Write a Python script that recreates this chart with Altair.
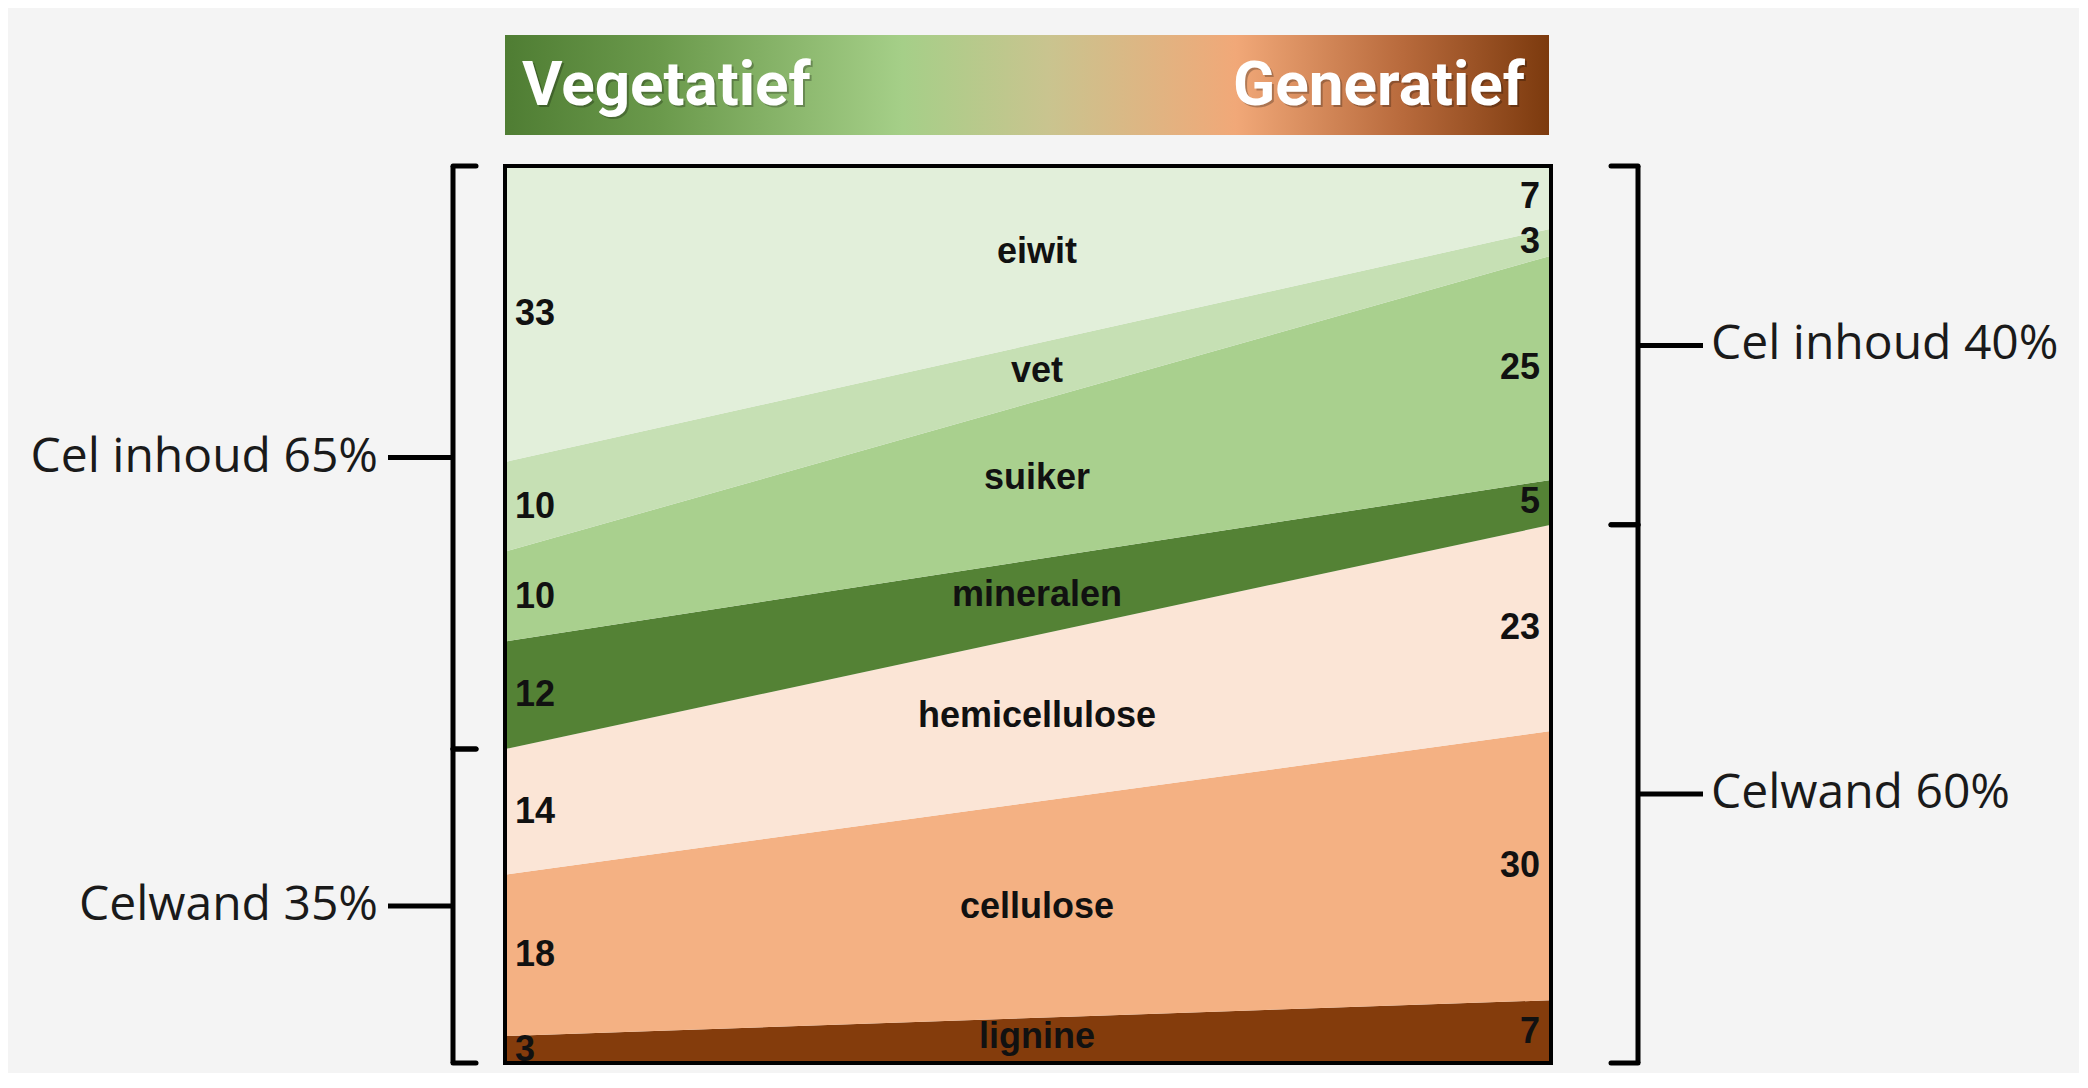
import altair as alt
import pandas as pd

# ---------------- data ----------------
stages = ["Vegetatief", "Generatief"]
components = ["eiwit", "vet", "suiker", "mineralen", "hemicellulose", "cellulose", "lignine"]
vegetatief = [33, 10, 10, 12, 14, 18, 3]
generatief = [7, 3, 25, 5, 23, 30, 7]
colors = ["#e2efda", "#c6e0b4", "#a9d08e", "#548235", "#fbe5d6", "#f4b183", "#843c0c"]
groups = ["Cel inhoud", "Cel inhoud", "Cel inhoud", "Cel inhoud", "Celwand", "Celwand", "Celwand"]
group_names = ["Cel inhoud", "Celwand"]

W, H = 1046, 897

# stacked bands (lignine at bottom, eiwit at top)
rows = []
for s, (stage, vals) in enumerate(zip(stages, [vegetatief, generatief])):
    base = 0
    for comp, v in reversed(list(zip(components, vals))):
        rows.append({"stage": stage, "pos": s, "comp": comp, "value": v,
                     "bottom": base, "top": base + v, "mid": base + v / 2})
        base += v
df = pd.DataFrame(rows)

# middle labels
mid_df = df.groupby("comp", as_index=False).agg(mid=("mid", "mean"), pos=("pos", "mean"))

# bracket groups
br_rows = []
for side, vals in zip(["left", "right"], [vegetatief, generatief]):
    base = 0
    for g in reversed(group_names):
        tot = sum(v for v, gg in zip(vals, groups) if gg == g)
        br_rows.append({"side": side, "group": g, "lo": base, "hi": base + tot,
                        "mid": base + tot / 2, "label": f"{g} {tot}%"})
        base += tot
br = pd.DataFrame(br_rows)
tips = pd.concat([br[["side", "lo"]].rename(columns={"lo": "yv"}),
                  br[["side", "hi"]].rename(columns={"hi": "yv"})])

xs = alt.Scale(domain=[0, 1], nice=False, zero=False)
ys = alt.Scale(domain=[0, 100], nice=False, zero=False)

base_chart = alt.Chart(df)

area = base_chart.mark_area(interpolate="linear", opacity=1).encode(
    x=alt.X("pos:Q", scale=xs, axis=None),
    y=alt.Y("top:Q", scale=ys, axis=None),
    y2="bottom:Q",
    color=alt.Color("comp:N", scale=alt.Scale(domain=components, range=colors), legend=None),
    detail="comp:N",
)

LBL_FONT = "Liberation Sans, Arial, sans-serif"

left_vals = alt.Chart(df[df.pos == 0]).mark_text(
    align="left", baseline="middle", font=LBL_FONT, fontSize=36, fontWeight="bold", color="#111111"
).encode(x=alt.value(10), y=alt.Y("mid:Q", scale=ys), text="value:Q")

right_vals = alt.Chart(df[df.pos == 1]).mark_text(
    align="right", baseline="middle", font=LBL_FONT, fontSize=36, fontWeight="bold", color="#111111"
).encode(x=alt.value(W - 11), y=alt.Y("mid:Q", scale=ys), text="value:Q")

mid_lbls = alt.Chart(mid_df).mark_text(
    align="center", baseline="middle", font=LBL_FONT, fontSize=36, fontWeight="bold", color="#111111",
    dx=9, dy=-4
).encode(x=alt.X("pos:Q", scale=xs), y=alt.Y("mid:Q", scale=ys), text="comp:N")

one = pd.DataFrame({"a": [0]})
border = alt.Chart(one).mark_rect(fillOpacity=0, stroke="#000000", strokeWidth=4).encode(
    x=alt.value(0), x2=alt.value(W), y=alt.value(0), y2=alt.value(H)
)

grad = alt.LinearGradient(
    gradient="linear",
    stops=[
        alt.GradientStop(offset=0.0, color="#4f7d33"),
        alt.GradientStop(offset=0.15, color="#6b9a4c"),
        alt.GradientStop(offset=0.38, color="#a5cf88"),
        alt.GradientStop(offset=0.52, color="#c9c48f"),
        alt.GradientStop(offset=0.70, color="#f1a878"),
        alt.GradientStop(offset=0.86, color="#b86a3c"),
        alt.GradientStop(offset=1.0, color="#7c3a0e"),
    ],
    x1=0, x2=1, y1=0, y2=0,
)
header = alt.Chart(one).mark_rect(color=grad).encode(
    x=alt.value(0), x2=alt.value(W - 2), y=alt.value(-131), y2=alt.value(-31)
)
HDR_FONT = "Roboto, Open Sans, sans-serif"
hdr_df = pd.DataFrame({"stage": stages})
hdr_left = alt.Chart(hdr_df[hdr_df.stage == stages[0]]).mark_text(
    align="left", baseline="middle", font=HDR_FONT, fontSize=62, fontWeight="bold", color="white"
).encode(x=alt.value(17), y=alt.value(-80), text="stage:N")
hdr_right = alt.Chart(hdr_df[hdr_df.stage == stages[1]]).mark_text(
    align="right", baseline="middle", font=HDR_FONT, fontSize=62, fontWeight="bold", color="white"
).encode(x=alt.value(W - 26), y=alt.value(-80), text="stage:N")
hdr_left_sh = alt.Chart(hdr_df[hdr_df.stage == stages[0]]).mark_text(
    align="left", baseline="middle", font=HDR_FONT, fontSize=62, fontWeight="bold", color="#000000",
    opacity=0.25, dx=2, dy=2
).encode(x=alt.value(17), y=alt.value(-80), text="stage:N")
hdr_right_sh = alt.Chart(hdr_df[hdr_df.stage == stages[1]]).mark_text(
    align="right", baseline="middle", font=HDR_FONT, fontSize=62, fontWeight="bold", color="#000000",
    opacity=0.25, dx=2, dy=2
).encode(x=alt.value(W - 26), y=alt.value(-80), text="stage:N")

# ---------------- brackets ----------------
BR_W = 5
BR_FONT = "Open Sans, Noto Sans, sans-serif"
layers_br = []
for side, xv, xtip, xtick, xtext, al in [
    ("left", -52, -29, -117, -127, "right"),
    ("right", W + 87, W + 60, W + 152, W + 160, "left"),
]:
    bsub = br[br.side == side]
    tsub = tips[tips.side == side]
    layers_br.append(alt.Chart(bsub).mark_rule(strokeWidth=BR_W, color="black").encode(
        x=alt.value(xv), y=alt.Y("lo:Q", scale=ys), y2="hi:Q"))
    layers_br.append(alt.Chart(tsub).mark_rule(strokeWidth=BR_W, color="black", strokeCap="round").encode(
        x=alt.value(xv), x2=alt.value(xtip), y=alt.Y("yv:Q", scale=ys)))
    layers_br.append(alt.Chart(bsub).mark_rule(strokeWidth=BR_W, color="black").encode(
        x=alt.value(xv), x2=alt.value(xtick), y=alt.Y("mid:Q", scale=ys)))
    layers_br.append(alt.Chart(bsub).mark_text(
        align=al, baseline="middle", font=BR_FONT, fontSize=48, color="#1a1a1a"
    ).encode(x=alt.value(xtext), y=alt.Y("mid:Q", scale=ys), text="label:N"))

chart = alt.layer(
    area, left_vals, right_vals, mid_lbls, border,
    header, hdr_left_sh, hdr_right_sh, hdr_left, hdr_right,
    *layers_br,
).properties(
    width=W, height=H,
    padding={"left": 497, "top": 158, "right": 528, "bottom": 10},
    autosize=alt.AutoSizeParams(type="none"),
    background="#f4f4f4",
).configure_view(strokeWidth=0)

chart.save("out.html", embed_options={"renderer": "svg", "actions": False})
